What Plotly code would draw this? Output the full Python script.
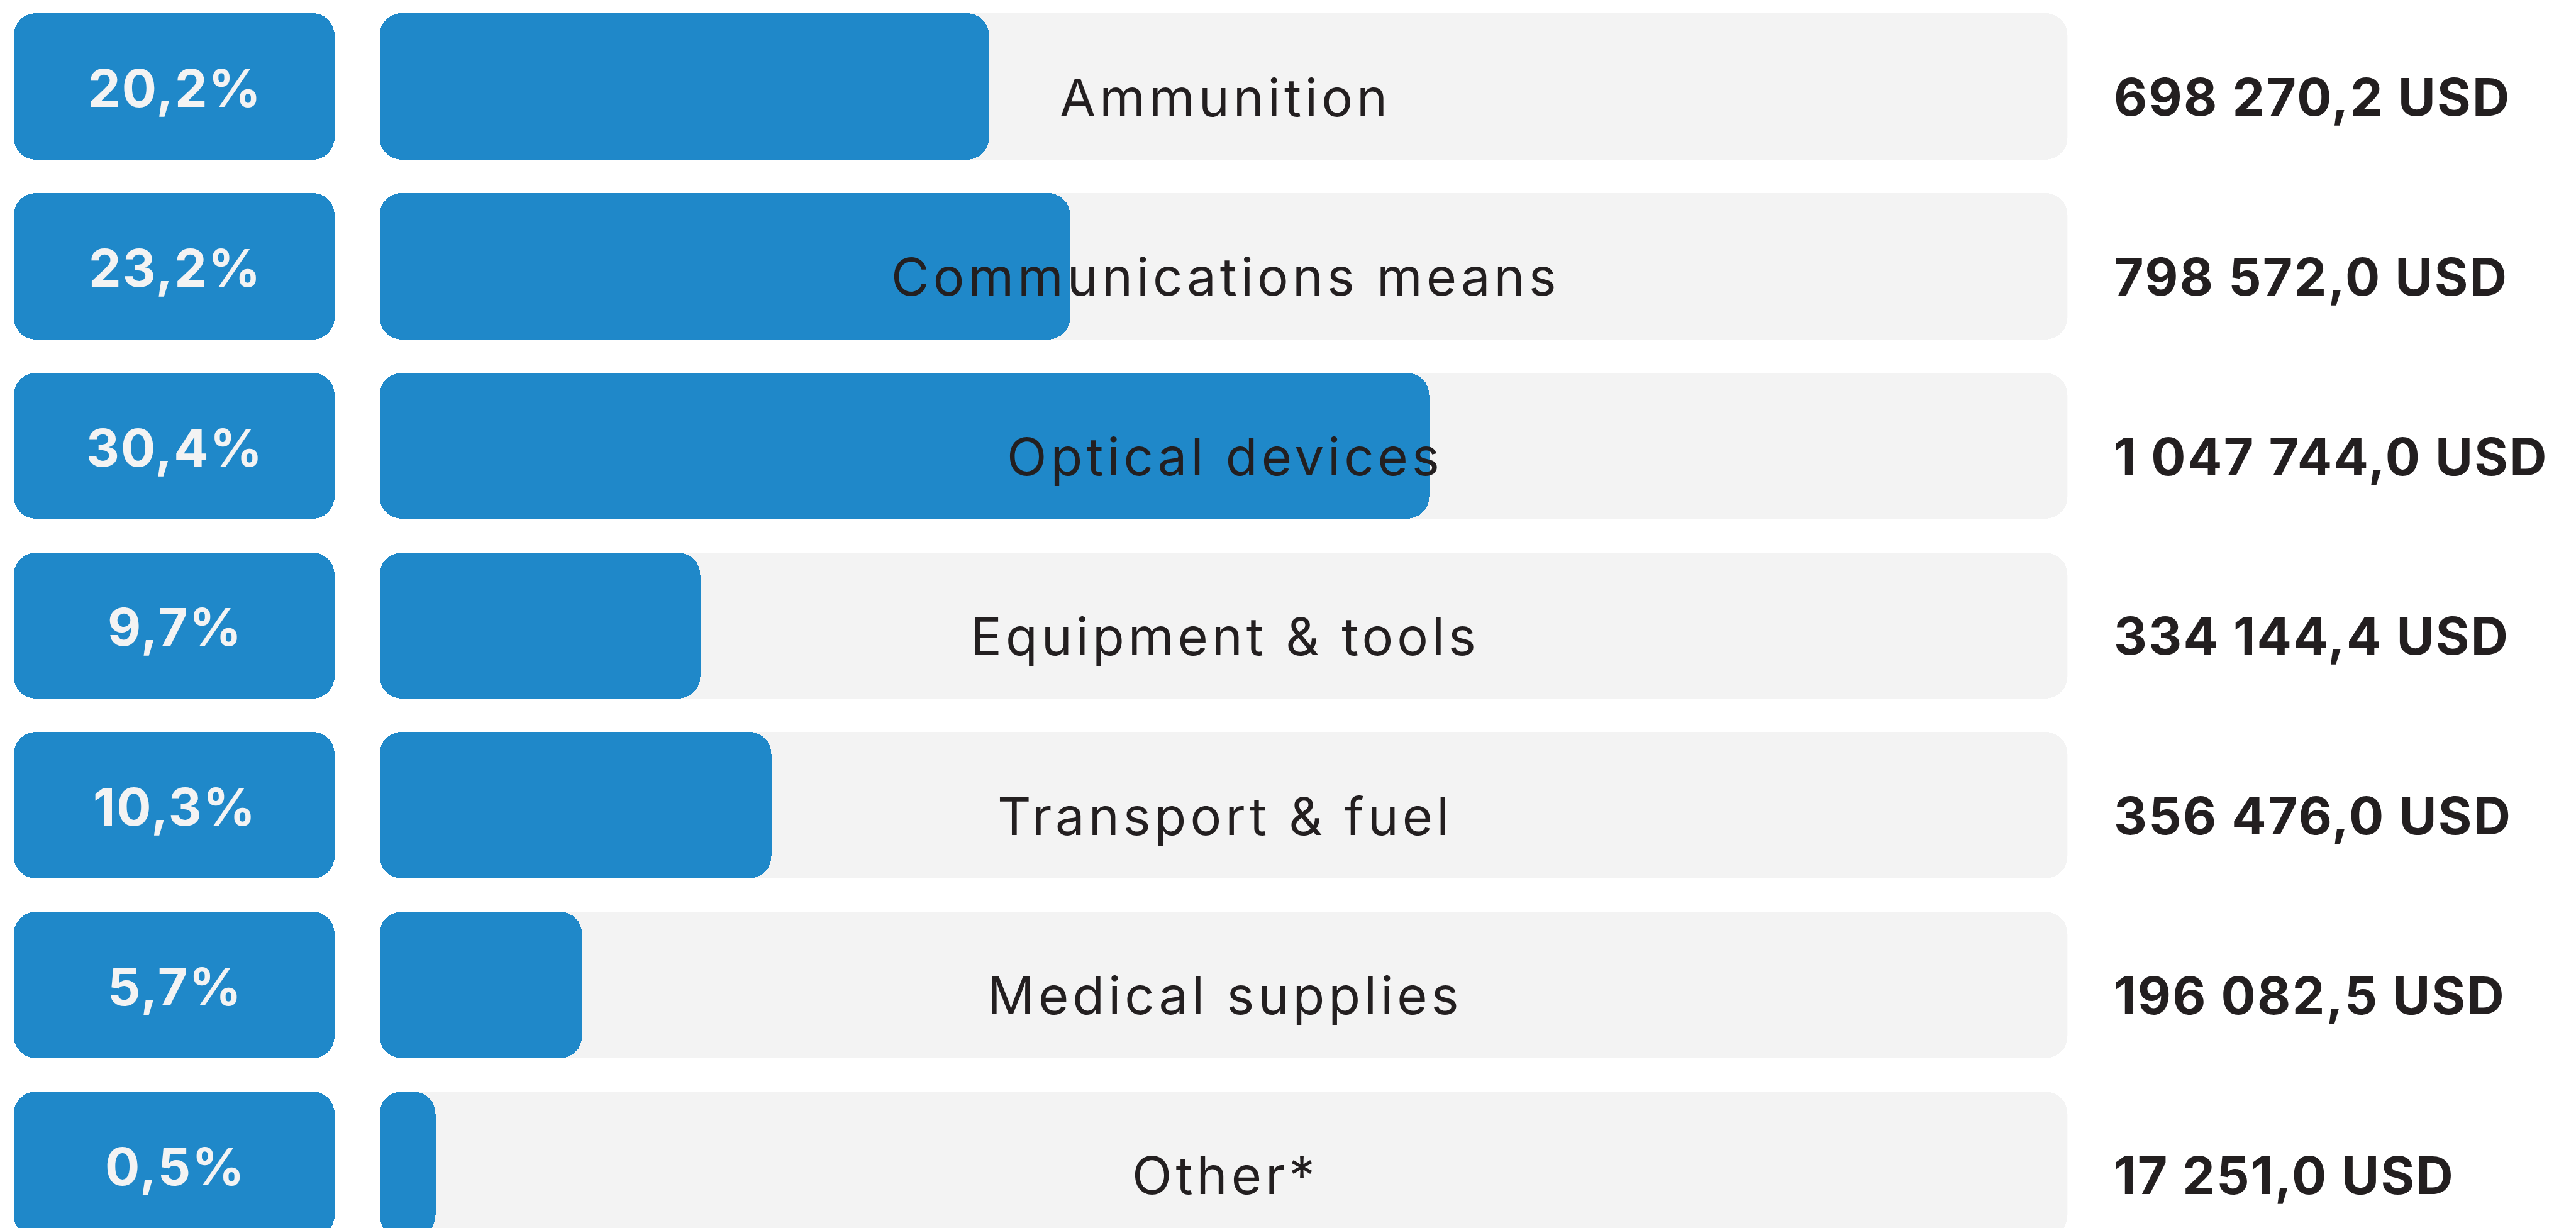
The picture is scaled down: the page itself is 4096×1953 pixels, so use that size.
import plotly.graph_objects as go

# ---- data ----
categories = ["Ammunition", "Communications means", "Optical devices",
              "Equipment & tools", "Transport & fuel", "Medical supplies", "Other*"]
percent_labels = ["20,2%", "23,2%", "30,4%", "9,7%", "10,3%", "5,7%", "0,5%"]
value_labels = ["698 270,2 USD", "798 572,0 USD", "1 047 744,0 USD", "334 144,4 USD",
                "356 476,0 USD", "196 082,5 USD", "17 251,0 USD"]
# visual length of each blue bar, as % of the grey track
bar_fill = [36.1, 40.9, 62.2, 19.0, 23.2, 12.0, 3.3]
track_max = 100.0

# ---- style ----
BLUE = "#1f88c9"
TRACK = "#f3f3f3"
DARK = "#231f20"
W, H = 4096, 1953
RADIUS = 35
BAR_W = 0.8135
LABEL_FONT = "Inter"
NUM_FONT = "Inter"

rows = list(range(len(categories)))
n = len(rows)
fig = go.Figure()


def bar(values, xaxis, color):
    fig.add_trace(go.Bar(y=rows, x=values, base=[0] * n, orientation="h", width=BAR_W,
                         marker_color=color, marker_line_width=0,
                         marker_cornerradius=RADIUS, xaxis=xaxis, yaxis="y",
                         showlegend=False, hoverinfo="skip"))


bar([1] * n, "x", BLUE)              # percent boxes
bar([track_max] * n, "x2", TRACK)    # grey tracks
bar(bar_fill, "x2", BLUE)            # blue fills


def spaced(txt, px):
    return '<span style="letter-spacing:%spx">%s</span>' % (px, txt)


ann = []
for i in rows:
    ann.append(dict(x=0.5, xref="x", y=i, yref="y", text=spaced(percent_labels[i], 2),
                    showarrow=False, xanchor="center", yanchor="middle", yshift=-3, xshift=1,
                    font=dict(family=NUM_FONT, size=82, color=TRACK, weight=700)))
    ann.append(dict(x=track_max / 2, xref="x2", y=i, yref="y",
                    text=spaced(categories[i], 6),
                    showarrow=False, xanchor="center", yanchor="middle", yshift=-17, xshift=3,
                    font=dict(family=LABEL_FONT, size=83, color=DARK)))
    ann.append(dict(x=5042 / 6149, xref="paper", y=i, yref="y",
                    text=spaced(value_labels[i], 2.3),
                    showarrow=False, xanchor="left", yanchor="middle", yshift=-17,
                    font=dict(family=NUM_FONT, size=82, color=DARK, weight=700)))

fig.update_layout(
    width=W, height=H, margin=dict(l=0, r=0, t=0, b=0),
    paper_bgcolor="white", plot_bgcolor="white",
    barmode="overlay", bargap=0,
    xaxis=dict(domain=[33 / 6149, 799 / 6149], range=[0, 1], visible=False, fixedrange=True),
    xaxis2=dict(domain=[906 / 6149, 4935 / 6149], range=[0, track_max], visible=False,
                fixedrange=True, anchor="y"),
    yaxis=dict(range=[6.3531, -0.4814], visible=False, fixedrange=True),
    annotations=ann,
)

fig.write_html("out.html", post_script="document.body.style.margin='0';",
               config={"displayModeBar": False})
